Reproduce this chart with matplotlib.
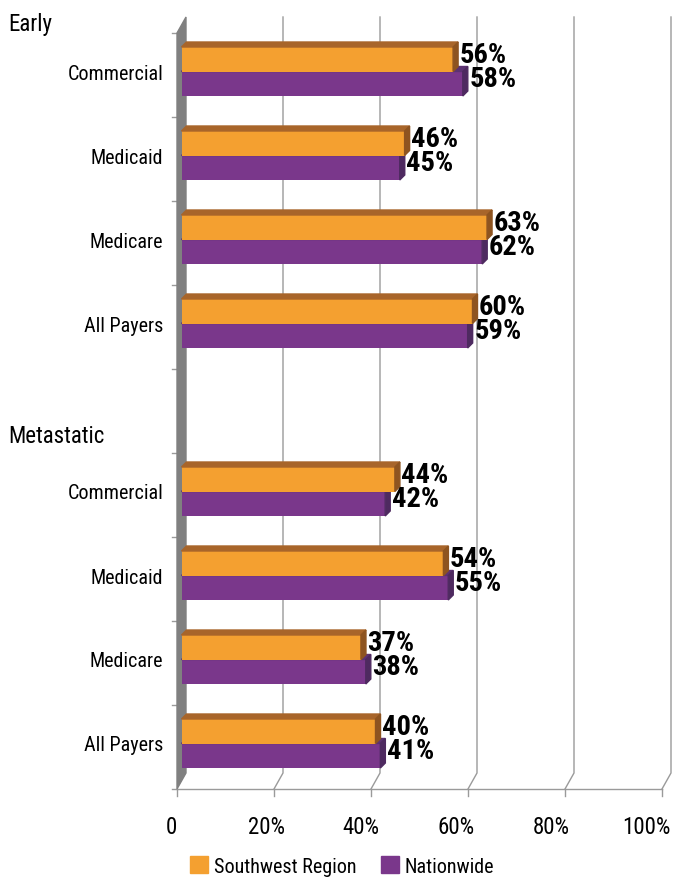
import numpy as np
import matplotlib.pyplot as plt
from matplotlib.patches import Polygon, Patch
from matplotlib import font_manager

# condensed face like the original, falls back to the stock fonts
installed = {f.name for f in font_manager.fontManager.ttflist}
wanted = ['Roboto Condensed', 'Barlow Condensed', 'Fira Sans Condensed',
          'PT Sans Narrow', 'Archivo Narrow', 'Liberation Sans Narrow']
fams = [f for f in wanted if f in installed][:1] + ['DejaVu Sans']
plt.rcParams['font.family'] = fams

categories = ['Commercial', 'Medicaid', 'Medicare', 'All Payers', '',
              'Commercial', 'Medicaid', 'Medicare', 'All Payers']
southwest = [56, 46, 63, 60, None, 44, 54, 37, 40]
nationwide = [58, 45, 62, 59, None, 42, 55, 38, 41]
groups = [('Early', 0), ('Metastatic', 4)]
ticks = [0, 20, 40, 60, 80, 100]
tick_labels = ['0', '20%', '40%', '60%', '80%', '100%']

orange, orange_top, orange_side = '#F4A030', '#A8652A', '#8E5420'
purple, purple_top, purple_side = '#7A378B', '#5C3272', '#4E2A60'
wall, grid = '#808080', '#9A9A9A'

W, H = 675, 879
fig = plt.figure(figsize=(W / 100, H / 100), dpi=100)
ax = fig.add_axes([177 / W, 1 - 790 / H, (662 - 177) / W, (790 - 34) / H])
ax.set_xlim(0, 100)
ax.set_ylim(8.5, -0.5)
ax.axis('off')

# pixel -> data helpers
PX = (662 - 177) / 100.0
PY = (790 - 34) / 9.0
bx, by = 9 / PX, -16 / PY       # back wall offset
ddx, ddy = 5 / PX, -5 / PY      # bar depth
d0 = 4.5 / PX                   # bar offset from front
h = 24.5 / PY
s = 3.5 / PY

# gridlines on floor + back wall
for v in ticks[1:]:
    ax.plot([v, v + bx, v + bx], [8.5, 8.5 + by, -0.5 + by], color=grid,
            lw=1, clip_on=False, zorder=1)
ax.plot([0, 100], [8.5, 8.5], color=grid, lw=1, clip_on=False, zorder=1)
for v in ticks:
    ax.plot([v, v], [8.5, 8.5 + 7 / PY], color=grid, lw=1, clip_on=False)
for b in np.arange(-0.5, 9, 1):
    ax.plot([-5 / PX, 0], [b, b], color=grid, lw=1, clip_on=False)

# left wall
ax.add_patch(Polygon([(0, 8.5), (0, -0.5), (bx, -0.5 + by), (bx, 8.5 + by)],
                     closed=True, color=wall, zorder=2, clip_on=False))


def bar3d(yc, v, front, top, side, z):
    y0, y1 = yc - h / 2, yc + h / 2
    ax.barh(yc, v, height=h, left=d0, color=front, zorder=z)
    x1 = d0 + v
    ax.add_patch(Polygon([(d0, y0), (x1, y0), (x1 + ddx, y0 + ddy), (d0 + ddx, y0 + ddy)],
                         closed=True, color=top, zorder=z))
    ax.add_patch(Polygon([(x1, y0), (x1, y1), (x1 + ddx, y1 + ddy), (x1 + ddx, y0 + ddy)],
                         closed=True, color=side, zorder=z))
    ax.text(x1 + ddx + 1.5 / PX, yc - 5 / PY, f'{v}%', fontsize=20.5, fontweight='bold',
            ha='left', va='center', zorder=6)


for i, (cat, sw, nw) in enumerate(zip(categories, southwest, nationwide)):
    if sw is None:
        continue
    bar3d(i - s + h / 2, nw, purple, purple_top, purple_side, 3)
    bar3d(i - s - h / 2, sw, orange, orange_top, orange_side, 4)
    ax.text(-14 / PX, i - 2 / PY, cat, ha='right', va='center', fontsize=14.5)

for name, i in groups:
    yy = -0.5 - 9 / PY if i == 0 else i + 0.5 - 17 / PY
    ax.text(-169 / PX, yy, name, ha='left', va='center', fontsize=16.5, clip_on=False)

for v, lab in zip(ticks, tick_labels):
    ax.text(-1.24 + 0.981 * v, 8.5 + 38 / PY, lab, ha='center', va='center', fontsize=16.5)

handles = [Patch(color=orange, label='Southwest Region'),
           Patch(color=purple, label='Nationwide')]
fig.legend(handles=handles, loc='center', bbox_to_anchor=(342 / W, 1 - 867 / H),
           ncol=2, frameon=False, fontsize=14.5, handlelength=0.9, handleheight=0.9,
           handletextpad=0.3, columnspacing=1.2, borderpad=0)

fig.savefig('out.png', dpi=100)
